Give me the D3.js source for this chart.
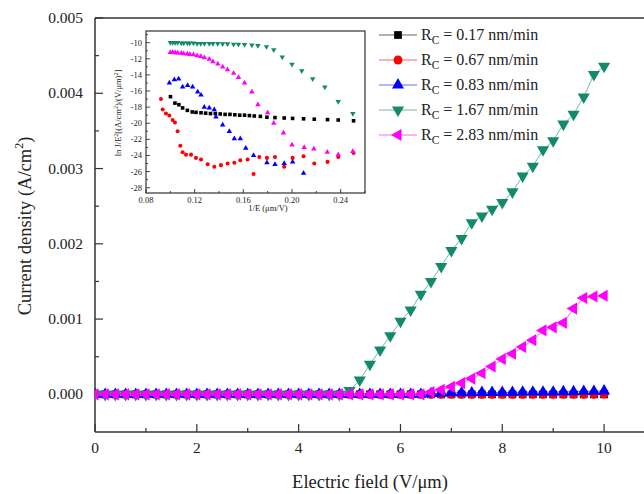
<!DOCTYPE html>
<html><head><meta charset="utf-8">
<script src="https://cdn.jsdelivr.net/npm/d3@7"></script>
<style>body{margin:0;background:#fff}svg{display:block}text{font-family:"Liberation Serif","Times New Roman",serif;fill:#222}</style>
</head><body>
<script>
// ---- main chart data (x: electric field V/um, y: current density in units of 0.001 A/cm^2)
const fieldE = [0,0.2,0.4,0.6,0.8,1.0,1.2,1.4,1.6,1.8,2.0,2.2,2.4,2.6,2.8,3.0,3.2,3.4,3.6,3.8,4.0,4.2,4.4,4.6,4.8,5.0,5.2,5.4,5.6,5.8,6.0,6.2,6.4,6.6,6.8,7.0,7.2,7.4,7.6,7.8,8.0,8.2,8.4,8.6,8.8,9.0,9.2,9.4,9.6,9.8,10.0];
const seriesNames = ["0.17","0.67","0.83","1.67","2.83"];
const jBlack = [0,0,0,0,0,0,0,0,0,0,0,0,0,0,0,0,0,0,0,0,0,0,0,0,0,0,0,0,0,0,0,0,0,0,0,0,0,0,0,0,0,0,0,0,0,0,0,0,0,0,0];
const jRed = [0,0,0,0,0,0,0,0,0,0,0,0,0,0,0,0,0,0,0,0,0,0,0,0,0,0,0,0,0,0,0,0,0,0,0,0,0,0,0,0,0,0,0,0,0,0,0,0,0,0,0.003];
const jBlue = [0,0,0,0,0,0,0,0,0,0,0,0,0,0,0,0,0,0,0,0,0,0,0,0,0,0,0,0,0,0,0,0,0,0.01,0.015,0.02,0.02,0.02,0.025,0.025,0.025,0.025,0.03,0.03,0.03,0.03,0.035,0.035,0.04,0.04,0.045];
const jGreen = [0,0,0,0,0,0,0,0,0,0,0,0,0,0,0,0,0,0,0,0,0,0,0,0,0,0.05,0.19,0.40,0.59,0.78,0.97,1.12,1.33,1.50,1.70,1.91,2.07,2.28,2.37,2.46,2.55,2.69,2.90,3.03,3.25,3.37,3.59,3.72,3.95,4.25,4.36];
const jMagenta = [0,0,0,0,0,0,0,0,0,0,0,0,0,0,0,0,0,0,0,0,0,0,0,0,0,0,0,0,0,0,0,0,0,0.03,0.06,0.10,0.15,0.21,0.28,0.37,0.47,0.54,0.63,0.72,0.85,0.89,0.95,1.14,1.28,1.30,1.31];
const xTicks = [0,2,4,6,8,10];
const yTicks = [0,0.001,0.002,0.003,0.004,0.005];

// ---- inset data: 1/E (um/V) vs ln(J/E^2)
const inBlackX = [0.1001,0.1038,0.1070,0.1101,0.1140,0.1180,0.1211,0.1252,0.1290,0.1330,0.1370,0.1410,0.1450,0.1490,0.1530,0.1570,0.1610,0.1650,0.1690,0.1740,0.1794,0.1860,0.1936,0.2005,0.2095,0.2183,0.2292,0.2380,0.2506];
const inBlackY = [-16.7,-17.5,-17.7,-18.1,-18.4,-18.6,-18.65,-18.7,-18.75,-18.8,-18.8,-18.85,-18.9,-18.9,-18.95,-19.0,-19.0,-19.05,-19.1,-19.15,-19.25,-19.3,-19.35,-19.4,-19.45,-19.5,-19.55,-19.6,-19.7];
const inRedX = [0.0923,0.0937,0.0964,0.0992,0.1019,0.1038,0.1060,0.1082,0.1101,0.1129,0.1170,0.1211,0.1252,0.1307,0.1361,0.1416,0.1471,0.1526,0.1575,0.1635,0.1684,0.1731,0.1794,0.1860,0.1936,0.2005,0.2095,0.2183,0.2292,0.2380,0.2506];
const inRedY = [-17.0,-18.3,-18.8,-19.05,-19.6,-19.9,-21.0,-22.8,-23.6,-23.9,-23.9,-24.3,-24.5,-25.1,-25.4,-25.2,-25.0,-24.9,-24.6,-24.5,-26.3,-24.2,-24.3,-24.2,-25.4,-24.3,-24.1,-25.0,-24.8,-24.2,-23.7];
const inBlueX = [0.0992,0.1033,0.1068,0.1101,0.1142,0.1183,0.1225,0.1252,0.1279,0.1320,0.1361,0.1375,0.1430,0.1485,0.1526,0.1575,0.1620,0.1684,0.1794,0.1860,0.1936,0.2005,0.2095];
const inBlueY = [-15.0,-14.6,-14.5,-15.5,-15.3,-15.5,-16.1,-16.5,-18.0,-18.1,-18.3,-19.2,-20.2,-21.0,-21.9,-21.9,-23.1,-24.0,-24.9,-25.1,-25.0,-24.8,-26.2];
const inGreenX = [0.100,0.102,0.104,0.106,0.109,0.111,0.114,0.116,0.119,0.122,0.125,0.128,0.132,0.135,0.139,0.143,0.147,0.152,0.156,0.161,0.167,0.172,0.179,0.185,0.192,0.200,0.208,0.217,0.227,0.238,0.250];
const inGreenY = [-10.0,-10.0,-10.0,-10.0,-10.05,-10.05,-10.05,-10.05,-10.05,-10.1,-10.1,-10.1,-10.1,-10.1,-10.1,-10.15,-10.15,-10.2,-10.2,-10.25,-10.3,-10.35,-10.5,-10.9,-11.8,-12.7,-13.5,-14.5,-15.5,-17.3,-18.8];
const inMagX = [0.100,0.102,0.104,0.106,0.109,0.111,0.114,0.116,0.119,0.122,0.125,0.128,0.132,0.135,0.139,0.143,0.147,0.152,0.156,0.161,0.167,0.172,0.180,0.185,0.193,0.200,0.210,0.218,0.229,0.238,0.250];
const inMagY = [-11.2,-11.22,-11.25,-11.28,-11.3,-11.35,-11.4,-11.45,-11.5,-11.6,-11.7,-11.85,-12.05,-12.35,-12.65,-13.0,-13.35,-13.8,-14.3,-15.0,-16.1,-17.7,-18.7,-20.0,-21.2,-22.7,-23.0,-23.2,-23.6,-23.9,-23.5];
const inXTicks = [0.08,0.12,0.16,0.20,0.24];
const inYTicks = [-10,-12,-14,-16,-18,-20,-22,-24,-26,-28];

const W=644,H=494;
const svg=d3.select("body").append("svg").attr("width",W).attr("height",H);
const x=d3.scaleLinear().domain([0,11]).range([95,655]);
const y=d3.scaleLinear().domain([-0.0005,0.005]).range([432,18]);

const colors=["#000000","#ff0000","#0000ff","#148a6c","#ff00ff"];
const symTypes=[d3.symbolSquare,d3.symbolCircle,d3.symbolTriangle,d3.symbolTriangle,d3.symbolTriangle];
const rots=[0,0,0,180,-90];
const sizes=[60,62,62,64,64];
const mainData=[jBlack,jRed,jBlue,jGreen,jMagenta];

const axc="#333";
svg.append("line").attr("x1",95).attr("x2",W+5).attr("y1",18).attr("y2",18).attr("stroke",axc).attr("stroke-width",1.5);
svg.append("line").attr("x1",95).attr("x2",W+5).attr("y1",432).attr("y2",432).attr("stroke",axc).attr("stroke-width",1.5);
svg.append("line").attr("x1",95).attr("x2",95).attr("y1",18).attr("y2",432).attr("stroke",axc).attr("stroke-width",1.5);

const gx=svg.append("g");
d3.range(0,12,1).forEach(v=>{
  const major=v%2===0;
  gx.append("line").attr("x1",x(v)).attr("x2",x(v)).attr("y1",432).attr("y2",432-(major?8:4)).attr("stroke",axc).attr("stroke-width",1.2);
});
xTicks.forEach(v=>gx.append("text").attr("x",x(v)).attr("y",453).attr("text-anchor","middle").attr("font-size",15.5).text(d3.format("d")(v)));
d3.range(0,0.00501,0.0005).forEach((v,i)=>{
  const major=i%2===0;
  svg.append("line").attr("x1",95).attr("x2",95+(major?8:4)).attr("y1",y(v)).attr("y2",y(v)).attr("stroke",axc).attr("stroke-width",1.2);
});
yTicks.forEach(v=>svg.append("text").attr("x",83).attr("y",y(v)+5).attr("text-anchor","end").attr("font-size",15.5).text(d3.format(".3f")(v)));

svg.append("text").attr("x",370).attr("y",488).attr("text-anchor","middle").attr("font-size",18.5).text("Electric field (V/\u03bcm)");
const yl=svg.append("text").attr("transform","translate(31,226) rotate(-90)").attr("text-anchor","middle").attr("font-size",18.5);
yl.append("tspan").text("Current density (A/cm");
yl.append("tspan").attr("dy",-8).attr("font-size",12).text("2");
yl.append("tspan").attr("dy",8).text(")");

svg.append("clipPath").attr("id","pc").append("rect").attr("x",95).attr("y",18).attr("width",W-95).attr("height",414);
const plot=svg.append("g").attr("clip-path","url(#pc)");
mainData.forEach((arr,si)=>{
  const pts=fieldE.map((e,i)=>[e,arr[i]*0.001]);
  plot.append("path").attr("d",d3.line().x(d=>x(d[0])).y(d=>y(d[1]))(pts)).attr("fill","none").attr("stroke",colors[si]).attr("stroke-width",1).attr("opacity",0.6);
  plot.selectAll(null).data(pts).enter().append("path")
    .attr("d",d3.symbol().type(symTypes[si]).size(sizes[si]))
    .attr("transform",d=>`translate(${x(d[0])},${y(d[1])}) rotate(${rots[si]})`)
    .attr("fill",colors[si]);
});

const lg=svg.append("g");
seriesNames.forEach((n,i)=>{
  const yy=35+i*25;
  lg.append("line").attr("x1",379).attr("x2",417).attr("y1",yy).attr("y2",yy).attr("stroke",colors[i]).attr("stroke-width",1).attr("opacity",0.6);
  lg.append("path").attr("d",d3.symbol().type(symTypes[i]).size(sizes[i])).attr("transform",`translate(398,${yy}) rotate(${rots[i]})`).attr("fill",colors[i]);
  const t=lg.append("text").attr("x",421).attr("y",yy+5).attr("font-size",16);
  t.append("tspan").text("R");
  t.append("tspan").attr("dy",4).attr("font-size",11.5).text("C");
  t.append("tspan").attr("dy",-4).text(" = "+n+" nm/min");
});

const ix=d3.scaleLinear().domain([0.08,0.26]).range([146,365]);
const iy=d3.scaleLinear().domain([-28.66,-8.55]).range([193,31]);
const ig=svg.append("g");
ig.append("rect").attr("x",146).attr("y",31).attr("width",219).attr("height",162).attr("fill","none").attr("stroke",axc).attr("stroke-width",1.2);
d3.range(0.08,0.2601,0.02).forEach((v,i)=>{
  ig.append("line").attr("x1",ix(v)).attr("x2",ix(v)).attr("y1",193).attr("y2",193-(i%2===0?4:2)).attr("stroke",axc).attr("stroke-width",0.9);
});
inXTicks.forEach(v=>ig.append("text").attr("x",ix(v)).attr("y",203).attr("text-anchor","middle").attr("font-size",8.5).text(d3.format(".2f")(v)));
d3.range(-28,-8.9,1).forEach(v=>{
  const major=Math.round(v)%2===0;
  ig.append("line").attr("x1",146).attr("x2",146+(major?4:2)).attr("y1",iy(v)).attr("y2",iy(v)).attr("stroke",axc).attr("stroke-width",0.9);
});
inYTicks.forEach(v=>ig.append("text").attr("x",142).attr("y",iy(v)+3).attr("text-anchor","end").attr("font-size",8.5).text(v));
ig.append("text").attr("x",268).attr("y",211).attr("text-anchor","middle").attr("font-size",8.5).text("1/E (\u03bcm/V)");
const iyl=ig.append("text").attr("transform","translate(121,113) rotate(-90)").attr("text-anchor","middle").attr("font-size",8.5);
iyl.append("tspan").text("ln J/E");
iyl.append("tspan").attr("dy",-3).attr("font-size",6).text("2");
iyl.append("tspan").attr("dy",3).text("[(A/cm");
iyl.append("tspan").attr("dy",-3).attr("font-size",6).text("2");
iyl.append("tspan").attr("dy",3).text(")/(V/\u03bcm)");
iyl.append("tspan").attr("dy",-3).attr("font-size",6).text("2");
iyl.append("tspan").attr("dy",3).text("]");
const inData=[[inBlackX,inBlackY],[inRedX,inRedY],[inBlueX,inBlueY],[inGreenX,inGreenY],[inMagX,inMagY]];
inData.forEach((d,si)=>{
  const pts=d[0].map((xv,i)=>[xv,d[1][i]]);
  ig.selectAll(null).data(pts).enter().append("path")
    .attr("d",d3.symbol().type(symTypes[si]).size(13))
    .attr("transform",p=>`translate(${ix(p[0])},${iy(p[1])}) rotate(${si===4?0:rots[si]})`)
    .attr("fill",colors[si]);
});
</script>
</body></html>
